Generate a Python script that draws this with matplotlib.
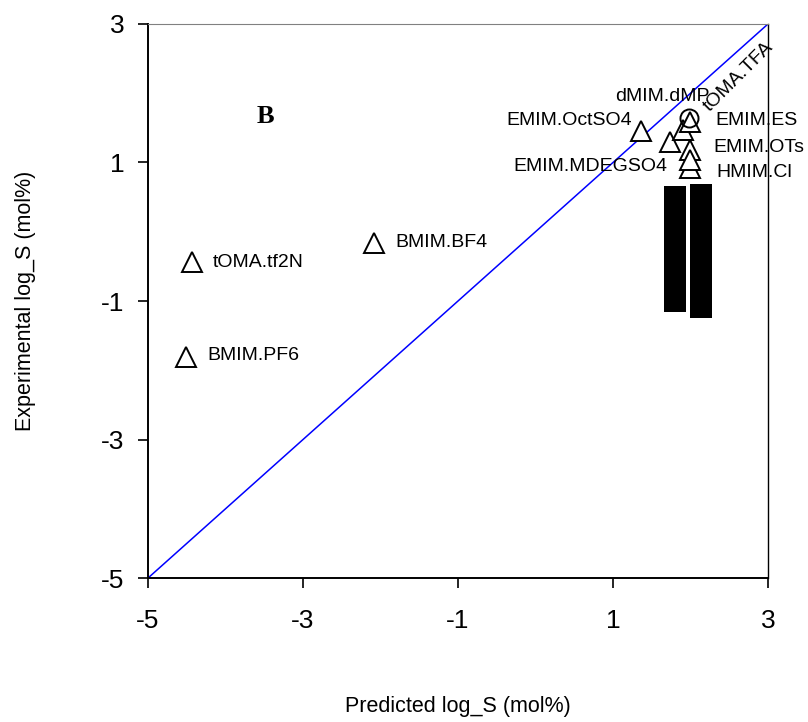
import matplotlib
matplotlib.use('Agg')
from matplotlib import pyplot as plt

plt.rcParams['font.family'] = ['Liberation Sans', 'DejaVu Sans']
plt.rcParams['axes.unicode_minus'] = False

# ionic liquids: predicted vs experimental log_S (mol%)
names = ['tOMA.tf2N', 'BMIM.PF6', 'BMIM.BF4', 'EMIM.OctSO4', 'EMIM.MDEGSO4',
         'dMIM.dMP', 'EMIM.ES', 'EMIM.OTs', 'HMIM.Cl', '']
predicted = [-4.43, -4.51, -2.08, 1.36, 1.74, 1.90, 1.99, 1.99, 1.99, 1.99]
experimental = [-0.44, -1.81, -0.16, 1.45, 1.30, 1.47, 1.59, 1.18, 0.92, 1.04]

# one circle point (tOMA.TFA)
circ_pred = [1.98]
circ_exp = [1.64]

# black blocks (bottom, top) in log_S
block_x = [1.80, 2.135]
block_bottom = [-1.155, -1.24]
block_top = [0.665, 0.69]

# label anchors (x, y, ha)
label_pos = {
    'tOMA.tf2N': (-4.17, -0.45, 'left'),
    'BMIM.PF6': (-4.24, -1.79, 'left'),
    'BMIM.BF4': (-1.81, -0.16, 'left'),
    'EMIM.OctSO4': (1.25, 1.61, 'right'),
    'EMIM.MDEGSO4': (1.70, 0.94, 'right'),
    'dMIM.dMP': (1.03, 1.95, 'left'),
    'EMIM.ES': (2.32, 1.61, 'left'),
    'EMIM.OTs': (2.29, 1.22, 'left'),
    'HMIM.Cl': (2.34, 0.86, 'left'),
}

fig = plt.figure(figsize=(8.08, 7.22), dpi=100)
ax = fig.add_axes([0.1832, 0.1994, 0.7673, 0.7674])

ax.plot([-5, 3], [-5, 3], color='blue', lw=1.1, zorder=1)

ax.bar(block_x, [t - b for t, b in zip(block_top, block_bottom)], bottom=block_bottom,
       width=0.284, color='black', zorder=2)

ax.plot(predicted, experimental, linestyle='none', marker='^', ms=15,
        mfc='white', mec='black', mew=1.4, zorder=3)
ax.plot(circ_pred, circ_exp, linestyle='none', marker='o', ms=13,
        mfc='none', mec='black', mew=1.4, zorder=3)

for n in names:
    if n in label_pos:
        x, y, ha = label_pos[n]
        ax.text(x, y, n, ha=ha, va='center', fontsize=14)

ax.text(2.25, 1.73, 'tOMA.TFA', rotation=45, rotation_mode='anchor',
        ha='left', va='baseline', fontsize=14)

ax.text(-3.48, 1.67, 'B', fontsize=19, fontweight='bold',
        family='Liberation Serif', ha='center', va='center')

ax.set_xlim(-5, 3)
ax.set_ylim(-5, 3)
ax.set_xticks([-5, -3, -1, 1, 3])
ax.set_yticks([-5, -3, -1, 1, 3])
ax.tick_params(direction='out', length=7, width=1.2, labelsize=19)
ax.tick_params(axis='x', pad=15)
ax.tick_params(axis='y', pad=10)
ax.spines['top'].set_color('#808080')
ax.spines['right'].set_linewidth(1.0)
ax.spines['left'].set_linewidth(1.4)
ax.spines['bottom'].set_linewidth(1.4)

ax.set_xlabel('Predicted log_S (mol%)', fontsize=15.5, labelpad=46)
ax.set_ylabel('Experimental log_S (mol%)', fontsize=15.5, labelpad=47)

fig.savefig('out.png', dpi=100)
